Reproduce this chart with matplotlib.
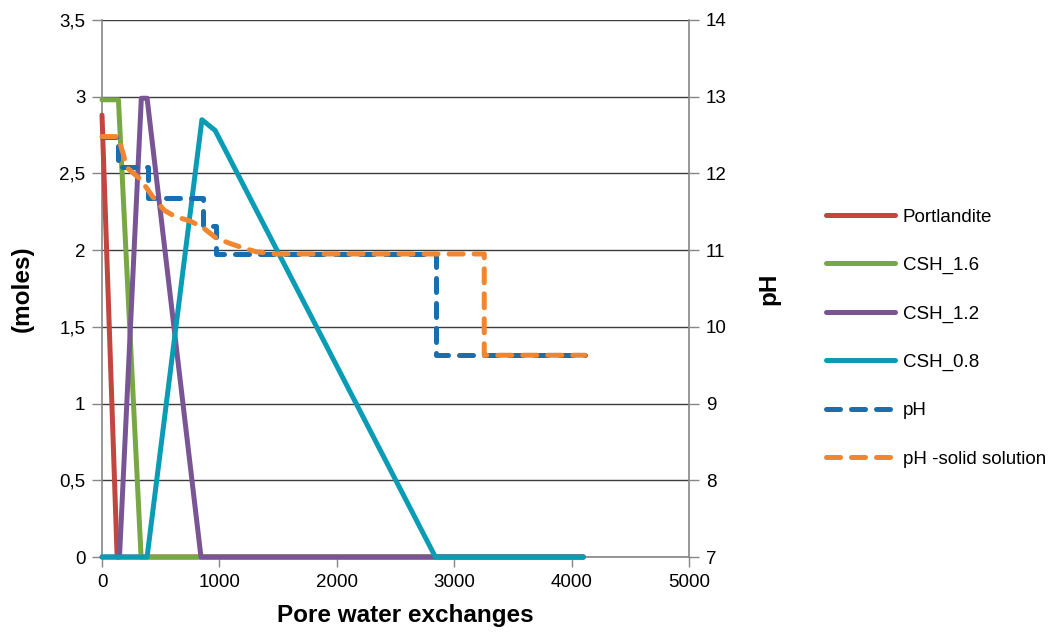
import matplotlib
matplotlib.use("Agg")
import matplotlib.pyplot as plt
from matplotlib.ticker import FuncFormatter, MultipleLocator

plt.rcParams['font.family'] = ['Liberation Sans', 'DejaVu Sans']

# solid phases (moles) against pore water exchanges
portlandite_x = [0, 129, 4100]
portlandite_y = [2.88, 0, 0]
csh16_x = [0, 140, 333, 4100]
csh16_y = [2.98, 2.98, 0, 0]
csh12_x = [0, 149, 335, 384, 843, 4100]
csh12_y = [0, 0, 2.99, 2.99, 0, 0]
csh08_x = [0, 384, 851, 964, 2840, 4100]
csh08_y = [0, 0, 2.85, 2.78, 0, 0]

# pore water pH
ph_x = [0, 140, 140, 389, 389, 857, 857, 970, 970, 2848, 2848, 4113]
ph_y = [12.48, 12.48, 12.08, 12.08, 11.68, 11.68, 11.32, 11.32, 10.95, 10.95, 9.63, 9.63]
phss_x = [0, 135, 180, 210, 330, 430, 530, 620, 750, 855, 970, 1085, 1200, 1310, 1480, 3256, 3256, 4113]
phss_y = [12.48, 12.48, 12.26, 12.08, 11.92, 11.70, 11.52, 11.44, 11.38, 11.30, 11.16, 11.09, 11.03, 10.98, 10.95, 10.95, 9.63, 9.63]

fig = plt.figure(figsize=(10.49, 6.32), dpi=100)
ax = fig.add_axes([102 / 1049, 1 - 557 / 632, 587 / 1049, 537 / 632])
ax2 = ax.twinx()

lw = 3.6
solid = dict(lw=lw, solid_capstyle='round', clip_on=False, zorder=4)
ax.plot(portlandite_x, portlandite_y, color='#C0463F', label='Portlandite', **solid)
ax.plot(csh16_x, csh16_y, color='#78A843', label='CSH_1.6', **solid)
ax.plot(csh12_x, csh12_y, color='#7A5595', label='CSH_1.2', **solid)
ax.plot(csh08_x, csh08_y, color='#0A9CB4', label='CSH_0.8', **solid)

dashed = dict(lw=lw, dashes=(2.8, 2.2), dash_capstyle='round', clip_on=False, zorder=4)
ax2.plot(ph_x, ph_y, color='#1A6EAD', label='pH', **dashed)
ax2.plot(phss_x, phss_y, color='#F08630', label='pH -solid solution', **dashed)

ax.set_xlim(0, 5000)
ax.set_ylim(0, 3.5)
ax2.set_ylim(7, 14)
ax.xaxis.set_major_locator(MultipleLocator(1000))
ax.yaxis.set_major_locator(MultipleLocator(0.5))
ax2.yaxis.set_major_locator(MultipleLocator(1))
ax.yaxis.set_major_formatter(FuncFormatter(lambda v, p: ('%g' % v).replace('.', ',')))

ax.grid(axis='y', color='#3c3c3c', lw=1.0)
ax.set_axisbelow(True)

# left/bottom spines belong to ax, the right one to ax2
for s in ('top', 'right'):
    ax.spines[s].set_visible(False)
for s in ('top', 'left', 'bottom'):
    ax2.spines[s].set_visible(False)
for a in (ax, ax2):
    for s in a.spines.values():
        s.set_color('#868686')
        s.set_linewidth(1.2)
    a.tick_params(length=7, width=1.0, color='#868686', labelsize=13.5, pad=5)

ax.set_xlabel('Pore water exchanges', fontsize=17.5, fontweight='bold')
ax.xaxis.set_label_coords(0.516, -0.088)
ax.set_ylabel('(moles)', fontsize=17.5, fontweight='bold', labelpad=18)
ax2.set_ylabel('pH', fontsize=17.5, fontweight='bold', labelpad=22)

h1, l1 = ax.get_legend_handles_labels()
h2, l2 = ax2.get_legend_handles_labels()
fig.legend(h1 + h2, l1 + l2, loc='center left', bbox_to_anchor=(826 / 1049, 0.465),
           frameon=False, fontsize=13.5, handlelength=3.7, handletextpad=0.4,
           labelspacing=1.66, borderpad=0, borderaxespad=0)

fig.savefig('out.png', dpi=100)
